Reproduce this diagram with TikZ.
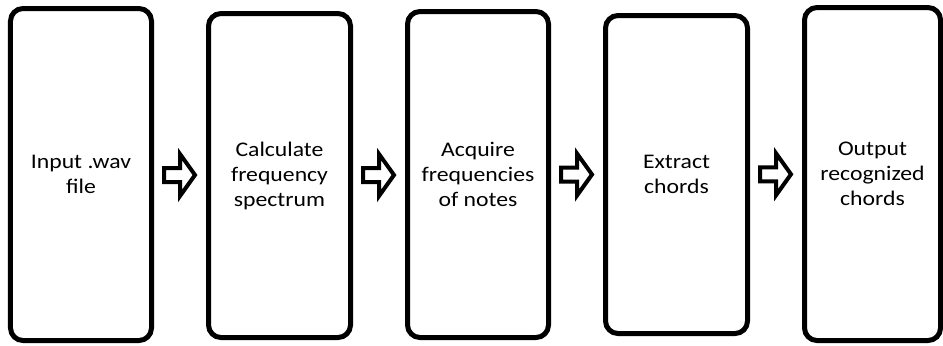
\documentclass[tikz,border=0pt]{standalone}
\usepackage{fontspec}
\setmainfont{Carlito}[FakeStretch=1.14]
\usetikzlibrary{calc}
\tikzset{
  stagebox/.style={draw=black, line width=5bp, rounded corners=12.5bp, fill=white,
    align=center, inner sep=0pt,
    font=\fontsize{20.8bp}{25bp}\selectfont},
  blockarrow/.style={draw=black, line width=4bp, fill=white, line join=miter, miter limit=10}
}
\newcommand{\blockarrowat}[1]{%
  \draw[blockarrow] ($#1+(-16,-7)$) -- ($#1+(0,-7)$) -- ($#1+(0,-21)$) -- ($#1+(15,0)$)
    -- ($#1+(0,21)$) -- ($#1+(0,7)$) -- ($#1+(-16,7)$) -- cycle;}
\begin{document}
\begin{tikzpicture}[x=1bp,y=-1bp]
\useasboundingbox (0,0) rectangle (943,345);
\node[stagebox, minimum width=141bp, minimum height=332bp] (b1) at (81,174.5) {Input .wav\\file};
\node[stagebox, minimum width=142bp, minimum height=324bp] (b2) at (279.5,175.5) {Calculate\\frequency\\spectrum};
\node[stagebox, minimum width=141bp, minimum height=326bp] (b3) at (478,174.5) {Acquire\\frequencies\\of notes};
\node[stagebox, minimum width=142bp, minimum height=318bp] (b4) at (676.5,174.5) {Extract\\chords};
\node[stagebox, minimum width=136bp, minimum height=333bp] (b5) at (872.5,174) {Output\\recognized\\chords};
\coordinate (a1) at ($(b1.east)!0.5!(b2.west)$);
\coordinate (a2) at ($(b2.east)!0.5!(b3.west)$);
\coordinate (a3) at ($(b3.east)!0.5!(b4.west)$);
\coordinate (a4) at ($(b4.east)!0.5!(b5.west)$);
\blockarrowat{(a1)}
\blockarrowat{(a2)}
\blockarrowat{(a3)}
\blockarrowat{(a4)}
\end{tikzpicture}
\end{document}
